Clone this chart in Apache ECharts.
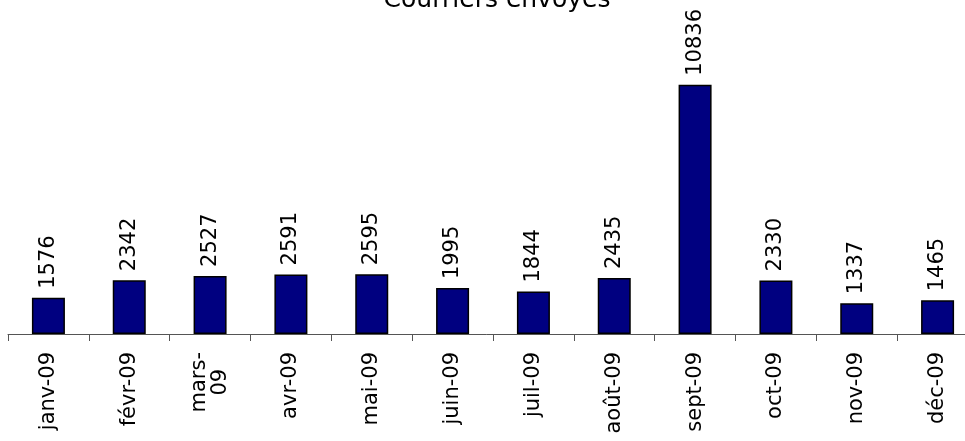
<!DOCTYPE html>
<html>
<head>
<meta charset="utf-8">
<script src="https://cdn.jsdelivr.net/npm/echarts@6/dist/echarts.min.js"></script>
<style>
  html, body { margin: 0; padding: 0; background: #fff; }
  #chart { width: 965px; height: 441px; }
</style>
</head>
<body>
<div id="chart"></div>
<script>
const months = ['janv-09', 'févr-09', 'mars-09', 'avr-09', 'mai-09', 'juin-09',
  'juil-09', 'août-09', 'sept-09', 'oct-09', 'nov-09', 'déc-09'];
const sent = [1576, 2342, 2527, 2591, 2595, 1995, 1844, 2435, 10836, 2330, 1337, 1465];

const chart = echarts.init(document.getElementById('chart'));
const font = 'DejaVu Sans';

chart.setOption({
  animation: false,
  title: {
    text: 'Courriers envoyés',
    left: 492,
    top: -17,
    textAlign: 'center',
    textStyle: { fontFamily: font, fontSize: 25, fontWeight: 'normal', color: '#000' }
  },
  // plot area runs past the right edge, last category is cut like the original
  grid: { left: 8, width: 970, top: 58, bottom: 107, outerBoundsMode: 'none', containLabel: false },
  xAxis: {
    type: 'category',
    data: months,
    axisLine: { lineStyle: { color: '#555', width: 1 } },
    axisTick: { show: true, length: 7, lineStyle: { color: '#555' } },
    axisLabel: {
      rotate: 90,
      margin: 18,
      interval: 0,
      fontFamily: font,
      fontSize: 21,
      color: '#000',
      // "mars-09" wraps on two centred lines in the original
      formatter: v => v === 'mars-09' ? '{c|mars-}\n{c|09}' : v,
      rich: { c: { align: 'center', fontFamily: font, fontSize: 21, color: '#000' } }
    }
  },
  yAxis: {
    type: 'value',
    min: 0,
    max: 12000,
    show: false
  },
  series: [{
    type: 'bar',
    data: sent,
    barWidth: 33,
    itemStyle: { color: '#000080', borderColor: '#000', borderWidth: 1.5 },
    label: {
      show: true,
      position: 'top',
      rotate: 90,
      align: 'left',
      verticalAlign: 'middle',
      distance: 9,
      fontFamily: font,
      fontSize: 21,
      color: '#000'
    }
  }]
});
</script>
</body>
</html>
